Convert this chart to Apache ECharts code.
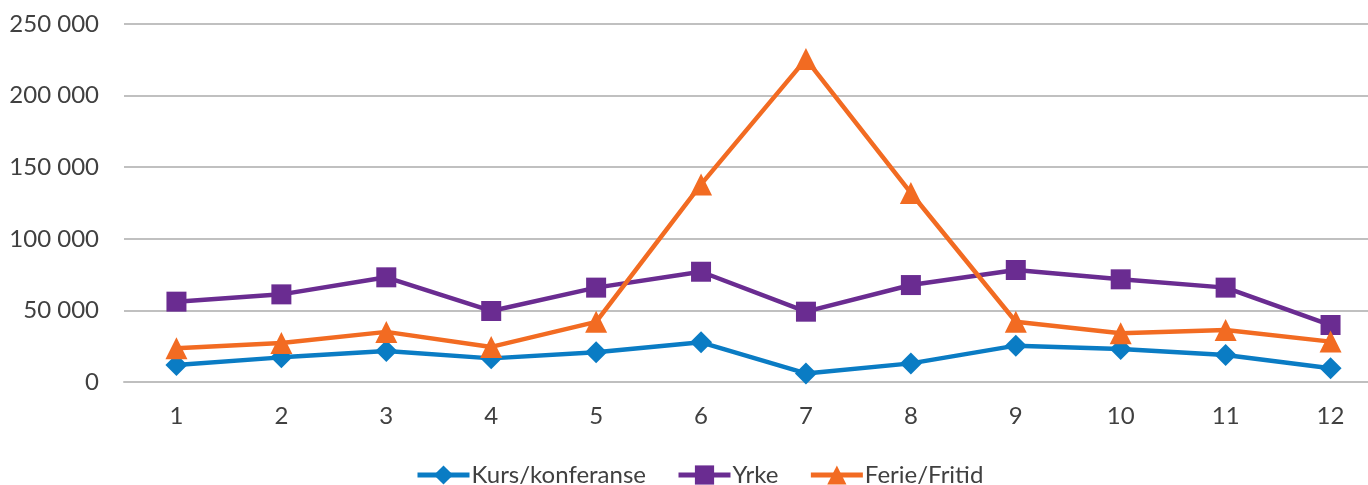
<!DOCTYPE html>
<html>
<head>
<meta charset="utf-8">
<script src="https://cdn.jsdelivr.net/npm/echarts@6/dist/echarts.min.js"></script>
<style>html,body{margin:0;padding:0;background:#fff}#c{width:1368px;height:485px}</style>
</head>
<body>
<div id="c"></div>
<script>
const categories = ['1','2','3','4','5','6','7','8','9','10','11','12'];
const kurs = [11900, 17200, 21600, 16500, 20700, 27700, 6000, 13000, 25400, 23000, 18900, 9600];
const yrke = [56100, 61200, 73100, 49600, 65900, 77000, 49100, 67700, 78200, 71700, 65900, 39800];
const ferie = [23500, 27200, 35000, 24500, 42000, 138000, 225500, 132000, 42100, 34000, 36300, 28200];
const seriesNames = ['Kurs/konferanse', 'Yrke', 'Ferie/Fritid'];
const yTicks = [0, 50000, 100000, 150000, 200000, 250000];

const FONT = 'Lato';
const chart = echarts.init(document.getElementById('c'));
function fmt(v){ return String(v).replace(/\B(?=(\d{3})+(?!\d))/g, ' '); }
chart.setOption({
  animation: false,
  grid: { left: 124, width: 1259, top: 24, bottom: 103, containLabel: false, outerBoundsMode: 'none' },
  legend: {
    top: 458, left: 410,
    itemWidth: 52, itemHeight: 24, itemGap: 30,
    lineStyle: { width: 5 },
    textStyle: { fontFamily: FONT, fontSize: 24, color: '#404040', padding: [0,0,0,-3] },
    data: seriesNames
  },
  xAxis: {
    type: 'category', data: categories, boundaryGap: true,
    axisLine: { lineStyle: { color: '#bfbfbf', width: 2 } },
    axisTick: { show: false },
    axisLabel: { fontFamily: FONT, fontSize: 24, color: '#404040', margin: 22 }
  },
  yAxis: {
    type: 'value', min: 0, max: 250000, interval: 50000,
    axisLine: { show: false }, axisTick: { show: false },
    splitLine: { lineStyle: { color: '#c0c0c0', width: 2 } },
    axisLabel: { fontFamily: FONT, fontSize: 24, color: '#404040', margin: 25,
      formatter: v => fmt(yTicks[yTicks.indexOf(v)]) }
  },
  series: [
    { name: seriesNames[0], type: 'line', data: kurs, symbol: 'diamond', symbolSize: 22,
      itemStyle: { color: '#0a7cc4' }, lineStyle: { width: 4.5, color: '#0a7cc4' } },
    { name: seriesNames[1], type: 'line', data: yrke, symbol: 'rect', symbolSize: 20,
      itemStyle: { color: '#6a2c91' }, lineStyle: { width: 4.5, color: '#6a2c91' } },
    { name: seriesNames[2], type: 'line', data: ferie, symbol: 'triangle', symbolSize: 22,
      itemStyle: { color: '#f26b22' }, lineStyle: { width: 4.5, color: '#f26b22' } }
  ]
});
</script>
</body>
</html>
